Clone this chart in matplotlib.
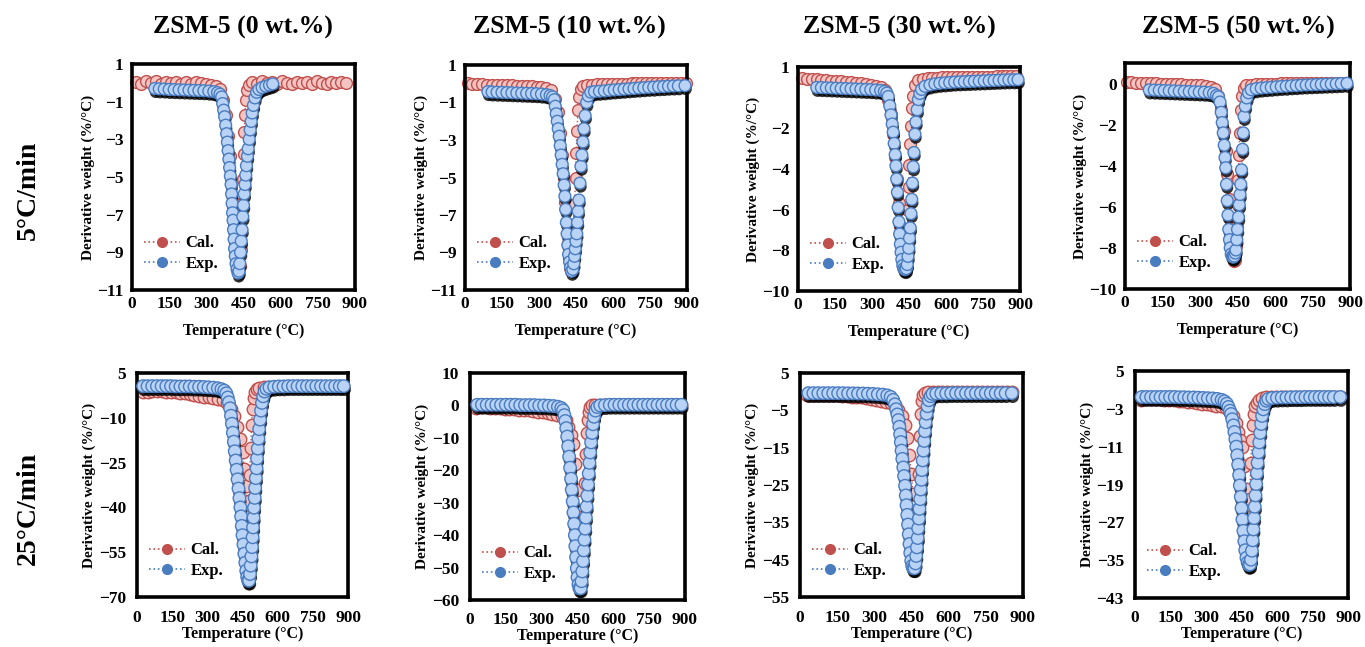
import matplotlib
matplotlib.use("Agg")
import matplotlib.pyplot as plt
import matplotlib.patheffects as pe
from matplotlib.lines import Line2D

plt.rcParams['font.family'] = ['Liberation Serif', 'DejaVu Serif']
plt.rcParams['font.weight'] = 'bold'

# ---- column / row labels ----
COL_TITLES = ['ZSM-5 (0 wt.%)', 'ZSM-5 (10 wt.%)', 'ZSM-5 (30 wt.%)', 'ZSM-5 (50 wt.%)']
ROW_TITLES = ['5°C/min', '25°C/min']
X_TICKS = [0, 150, 300, 450, 600, 750, 900]

# ---- 5 C/min, 0 wt.% ----
EXP5_0_T = [92, 110, 130, 150, 170, 190, 210, 230, 250, 270, 290, 310, 330, 345, 355,
            362, 366, 370, 374, 378, 382, 385, 388, 391, 394, 397, 400, 402, 404, 406,
            408, 410, 412, 414, 417, 420, 424, 428,
            432, 435, 438, 441, 444, 447, 450, 453, 456, 459, 462, 466, 469, 473, 477,
            481, 485, 490, 496, 503, 512, 525, 540, 555, 568]
EXP5_0_Y = [-0.30, -0.32, -0.33, -0.35, -0.36, -0.37, -0.38, -0.39, -0.40, -0.41, -0.42,
            -0.44, -0.47, -0.52, -0.60,
            -0.75, -1.1, -1.45, -1.8, -2.25, -2.7, -3.15, -3.6, -4.05, -4.5, -4.95, -5.4,
            -5.9, -6.4, -6.9, -7.3, -7.8, -8.3, -8.8, -9.2, -9.6, -9.9, -10.1,
            -10.0, -9.6, -9.0, -8.4, -7.8, -7.1, -6.5, -5.9, -5.4, -4.9, -4.4, -3.9, -3.5,
            -3.0, -2.5, -2.05, -1.6, -1.2, -0.8, -0.5, -0.35, -0.25, -0.18, -0.12, -0.06]
CAL5_0_T = [18, 38, 58, 78, 98, 118, 138, 158, 178, 198, 218, 238, 258, 278, 298, 318, 338, 355,
            368, 378, 388, 396, 404, 410, 416, 421, 426, 430,
            434, 438, 441, 444, 447, 450, 453, 456, 460, 465, 472,
            485, 505, 525, 545, 565, 585, 605, 625, 645, 665, 685, 705, 725, 745, 765, 785,
            805, 825, 845, 862]
CAL5_0_Y = [0.05, -0.05, 0.1, 0.0, 0.08, -0.06, 0.04, -0.02, 0.07, -0.05, 0.03, -0.04, 0.06,
            -0.03, -0.05, -0.1, -0.18, -0.35,
            -0.9, -1.7, -2.8, -3.9, -5.2, -6.4, -7.6, -8.6, -9.4, -9.9,
            -9.7, -8.9, -7.8, -6.5, -5.1, -3.8, -2.6, -1.7, -0.9, -0.4, -0.1,
            0.05, -0.04, 0.1, -0.02, 0.06, -0.05, 0.08, 0.0, -0.06, 0.07, -0.03, 0.05, -0.04,
            0.09, 0.01, -0.05, 0.06, -0.02, 0.04, 0.0]

# ---- 5 C/min, 10 wt.% ----
EXP5_10_T = [93, 110, 130, 150, 170, 190, 210, 230, 250, 270, 290, 310, 330, 345, 355,
             362, 366, 370, 374, 378, 382, 386, 390, 394, 398, 402, 405, 408, 411, 414,
             417, 420, 424, 428, 432,
             437, 441, 444, 447, 450, 453, 456, 459, 462, 466, 470, 474, 478, 482, 487,
             493, 500, 510,
             525, 545, 565, 585, 605, 625, 645, 665, 685, 705, 725, 745, 765, 785, 805,
             825, 845, 865, 892]
EXP5_10_Y = [-0.42, -0.44, -0.45, -0.46, -0.47, -0.48, -0.49, -0.50, -0.51, -0.52, -0.53,
             -0.55, -0.58, -0.63, -0.7,
             -0.85, -1.2, -1.6, -2.0, -2.4, -2.8, -3.3, -3.8, -4.3, -4.8, -5.4, -6.0, -6.7,
             -7.4, -8.0, -8.6, -9.1, -9.5, -9.8, -10.0,
             -9.9, -9.6, -9.2, -8.8, -8.4, -8.0, -7.4, -6.8, -6.2, -5.3, -4.4, -3.8, -3.1,
             -2.4, -1.7, -1.0, -0.65, -0.45,
             -0.42, -0.40, -0.38, -0.35, -0.33, -0.31, -0.29, -0.27, -0.25, -0.23, -0.21,
             -0.19, -0.18, -0.16, -0.15, -0.13, -0.12, -0.11, -0.1]
CAL5_10_T = [12, 30, 50, 70, 90, 110, 130, 150, 170, 190, 210, 230, 250, 270, 290, 310, 330, 350,
             365, 375, 385, 393, 400, 407, 413, 418, 423, 427, 431,
             435, 439, 442, 445, 448, 451, 454, 458, 463, 470, 480,
             495, 515, 535, 555, 575, 595, 615, 635, 655, 675, 695, 715, 735, 755, 775,
             795, 815, 835, 855, 875, 895]
CAL5_10_Y = [0.02, 0.0, -0.02, -0.03, -0.04, -0.05, -0.06, -0.07, -0.08, -0.09, -0.1, -0.11,
             -0.12, -0.13, -0.15, -0.18, -0.23, -0.35,
             -0.8, -1.5, -2.6, -3.8, -5.0, -6.3, -7.5, -8.5, -9.3, -9.8, -10.0,
             -9.7, -8.8, -7.7, -6.4, -5.0, -3.7, -2.5, -1.4, -0.7, -0.3, -0.12,
             -0.06, -0.04, -0.03, -0.02, -0.01, 0.0, 0.0, 0.01, 0.01, 0.02, 0.02, 0.03, 0.03,
             0.03, 0.04, 0.04, 0.04, 0.05, 0.05, 0.05, 0.05]

# ---- 5 C/min, 30 wt.% ----
EXP5_30_T = [76, 95, 115, 135, 155, 175, 195, 215, 235, 255, 275, 295, 315, 335, 350, 360,
             366, 372, 377, 382, 386, 390, 394, 397, 400, 403, 406, 409, 412, 415, 418,
             421, 425, 429, 434,
             439, 443, 446, 449, 452, 455, 458, 461, 464, 467, 470, 474, 478, 483, 488,
             494, 501,
             515, 535, 555, 575, 595, 615, 635, 655, 675, 695, 715, 735, 755, 775, 795,
             815, 835, 855, 875, 892]
EXP5_30_Y = [0.0, -0.01, -0.02, -0.03, -0.04, -0.05, -0.06, -0.07, -0.08, -0.09, -0.1, -0.11,
             -0.13, -0.15, -0.2, -0.28,
             -0.45, -0.9, -1.35, -1.8, -2.2, -2.75, -3.3, -3.85, -4.5, -5.15, -5.9, -6.6,
             -7.2, -7.7, -8.1, -8.45, -8.75, -8.9, -8.95,
             -8.9, -8.7, -8.3, -7.9, -7.4, -6.9, -6.2, -5.5, -4.7, -3.9, -3.2, -2.3, -1.7,
             -1.1, -0.6, -0.3, -0.1,
             0.05, 0.12, 0.17, 0.2, 0.22, 0.24, 0.26, 0.27, 0.28, 0.29, 0.3, 0.31, 0.32,
             0.33, 0.34, 0.35, 0.36, 0.37, 0.37, 0.38]
CAL5_30_T = [15, 35, 55, 75, 95, 115, 135, 155, 175, 195, 215, 235, 255, 275, 295, 315, 335, 352,
             366, 376, 386, 394, 401, 408, 414, 419, 424, 428, 432,
             436, 440, 443, 446, 449, 452, 455, 458, 462, 467, 474,
             485, 505, 525, 545, 565, 585, 605, 625, 645, 665, 685, 705, 725, 745, 765,
             785, 805, 825, 845, 865, 885]
CAL5_30_Y = [0.45, 0.43, 0.41, 0.39, 0.37, 0.35, 0.33, 0.31, 0.29, 0.27, 0.25, 0.23, 0.2,
             0.17, 0.13, 0.08, 0.0, -0.15,
             -0.6, -1.3, -2.3, -3.4, -4.5, -5.7, -6.8, -7.7, -8.4, -8.8, -8.95,
             -8.7, -8.0, -7.1, -6.0, -4.9, -3.8, -2.8, -1.9, -1.0, -0.4, 0.1,
             0.35, 0.42, 0.45, 0.47, 0.48, 0.49, 0.5, 0.5, 0.51, 0.51, 0.52, 0.52, 0.52,
             0.53, 0.53, 0.53, 0.54, 0.54, 0.54, 0.55, 0.55]

# ---- 5 C/min, 50 wt.% ----
EXP5_50_T = [97, 117, 137, 157, 177, 197, 217, 237, 257, 277, 297, 317, 337, 354, 366,
             374, 380, 385, 389, 393, 397, 400, 403, 406, 409, 412, 415, 418, 421, 425,
             429, 433,
             437, 441, 444, 447, 450, 454, 457, 460, 463, 466, 470, 473, 476, 481, 487, 494,
             505, 525, 545, 565, 585, 605, 625, 645, 665, 685, 705, 725, 745, 765, 785,
             805, 825, 845, 865, 888]
EXP5_50_Y = [-0.31, -0.32, -0.33, -0.34, -0.35, -0.36, -0.37, -0.38, -0.39, -0.4, -0.41,
             -0.42, -0.44, -0.48, -0.58,
             -0.65, -0.9, -1.4, -1.9, -2.4, -3.0, -3.6, -4.1, -4.9, -5.7, -6.4, -7.1, -7.6,
             -8.0, -8.3, -8.42, -8.45,
             -8.4, -8.25, -8.1, -7.6, -7.1, -6.5, -5.9, -5.4, -4.9, -4.2, -3.2, -2.4, -1.6,
             -1.1, -0.7, -0.45,
             -0.3, -0.25, -0.22, -0.2, -0.18, -0.16, -0.14, -0.13, -0.11, -0.1, -0.08,
             -0.07, -0.06, -0.05, -0.04, -0.03, -0.02, -0.01, 0.0, 0.01]
CAL5_50_T = [6, 25, 45, 65, 85, 105, 125, 145, 165, 185, 205, 225, 245, 265, 285, 305, 325,
             345, 360,
             372, 384, 394, 402, 409, 416, 422, 427, 432, 436,
             440, 444, 447, 450, 453, 456, 459, 463, 468, 475,
             485, 505, 525, 545, 565, 585, 605, 625, 645, 665, 685, 705, 725, 745, 765,
             785, 805, 825, 845, 865, 885]
CAL5_50_Y = [0.09, 0.07, 0.05, 0.04, 0.03, 0.02, 0.01, 0.0, -0.01, -0.02, -0.03, -0.04,
             -0.05, -0.06, -0.07, -0.09, -0.11, -0.15, -0.25,
             -0.6, -1.3, -2.3, -3.3, -4.4, -5.6, -6.7, -7.6, -8.3, -8.65,
             -8.6, -7.9, -7.0, -5.9, -4.7, -3.5, -2.4, -1.3, -0.6, -0.2,
             -0.08, -0.05, -0.03, -0.02, -0.01, 0.0, 0.0, 0.01, 0.01, 0.02, 0.02, 0.02,
             0.03, 0.03, 0.03, 0.04, 0.04, 0.04, 0.05, 0.05, 0.05]

# ---- 25 C/min, 0 wt.% ----
EXP25_0_T = [26, 45, 65, 85, 105, 125, 145, 165, 185, 205, 225, 245, 265, 285, 305, 325,
             345, 360, 372,
             381, 387, 392, 397, 401, 405, 409, 413, 417, 421, 425, 429, 433, 437, 441,
             444, 447, 450, 454, 458, 462, 466, 470, 474,
             478, 482, 485, 488, 491, 493, 495, 497, 499, 502, 504, 507, 510, 512, 515,
             518, 521, 525, 529, 533, 538, 544, 552,
             565, 585, 605, 625, 645, 665, 685, 705, 725, 745, 765, 785, 805, 825, 845,
             865, 882]
EXP25_0_Y = [0.6, 0.6, 0.6, 0.6, 0.6, 0.6, 0.6, 0.5, 0.5, 0.5, 0.5, 0.4, 0.4, 0.3, 0.2,
             0.1, -0.1, -0.4, -0.9,
             -1.8, -3.2, -4.8, -6.8, -9.3, -12.0, -15.0, -18.0, -21.2, -24.3, -27.4, -30.6,
             -33.7, -36.9, -40.0, -43.0, -46.2, -49.3, -52.4, -55.5, -58.5, -61.2, -63.3,
             -64.5,
             -64.5, -62.3, -59.5, -56.4, -53.3, -50.0, -46.7, -43.4, -40.1, -36.8, -33.5,
             -30.2, -26.9, -23.6, -20.3, -17.0, -13.8, -10.6, -7.6, -5.0, -2.8, -1.2, -0.3,
             0.2, 0.4, 0.5, 0.5, 0.6, 0.6, 0.6, 0.6, 0.6, 0.6, 0.6, 0.6, 0.6, 0.6, 0.6,
             0.6, 0.6]
CAL25_0_T = [26, 45, 65, 85, 105, 125, 145, 165, 185, 205, 225, 245, 265, 285, 305, 325,
             345, 365,
             385, 400, 415, 428, 440, 450, 458, 464, 469, 473,
             477, 481, 485, 489, 493, 497, 502, 510,
             520, 540, 560, 580, 600, 620, 640, 660, 680, 700, 720, 740, 760, 780, 800,
             820, 840, 860, 880]
CAL25_0_Y = [-1.5, -1.2, -1.0, -1.0, -1.1, -1.2, -1.3, -1.4, -1.6, -1.8, -2.0, -2.3, -2.6,
             -2.9, -3.1, -3.3, -3.6, -4.0,
             -5.0, -7.0, -9.5, -13.0, -17.0, -21.5, -27.0, -33.0, -38.5, -42.0,
             -38.0, -29.0, -20.0, -12.5, -7.0, -3.5, -1.5, -0.5,
             0.0, 0.2, 0.3, 0.3, 0.4, 0.4, 0.4, 0.4, 0.4, 0.4, 0.4, 0.4, 0.4, 0.4, 0.4,
             0.4, 0.4, 0.4, 0.4]

# ---- 25 C/min, 10 wt.% ----
EXP25_10_T = [30, 50, 70, 90, 110, 130, 150, 170, 190, 210, 230, 250, 270, 290, 310, 330,
              350, 368, 382,
              390, 395, 399, 403, 407, 411, 415, 419, 423, 426, 430, 433, 436, 439, 441,
              444, 447, 450, 454, 458,
              463, 467, 470, 473, 476, 479, 482, 485, 488, 491, 494, 497, 500, 503, 507,
              511, 515, 519, 525, 533,
              545, 565, 585, 605, 625, 645, 665, 685, 705, 725, 745, 765, 785, 805, 825,
              845, 865, 885]
EXP25_10_Y = [0.2, 0.2, 0.2, 0.2, 0.2, 0.2, 0.2, 0.2, 0.2, 0.1, 0.1, 0.1, 0.1, 0.0, 0.0,
              -0.1, -0.2, -0.4, -0.8,
              -1.5, -3.0, -4.8, -7.0, -9.6, -12.6, -15.8, -19.2, -22.6, -26.0, -29.6, -33.0,
              -36.5, -40.0, -43.4, -46.8, -50.2, -53.0, -55.2, -56.4,
              -56.4, -54.2, -51.2, -48.0, -44.7, -41.4, -38.0, -34.6, -31.2, -27.8, -24.4,
              -21.0, -17.7, -14.5, -11.4, -8.5, -5.8, -3.5, -1.6, -0.5,
              0.0, 0.1, 0.2, 0.2, 0.2, 0.2, 0.2, 0.2, 0.2, 0.2, 0.2, 0.2, 0.2, 0.2, 0.2,
              0.2, 0.2, 0.2]
CAL25_10_T = [25, 45, 65, 85, 105, 125, 145, 165, 185, 205, 225, 245, 265, 285, 305, 325,
              345, 365, 385,
              400, 412, 422, 432, 440, 447, 453, 459, 464, 468,
              472, 476, 480, 484, 488, 493, 498, 503, 510,
              525, 545, 565, 585, 605, 625, 645, 665, 685, 705, 725, 745, 765, 785, 805,
              825, 845, 865, 885]
CAL25_10_Y = [-0.8, -0.6, -0.6, -0.7, -0.8, -0.9, -1.0, -1.1, -1.2, -1.3, -1.4, -1.5, -1.7,
              -1.9, -2.1, -2.3, -2.5, -2.8, -3.3,
              -4.5, -6.5, -9.0, -12.0, -18.0, -26.0, -33.0, -39.0, -43.5, -45.5,
              -42.0, -34.0, -24.0, -15.0, -8.5, -4.5, -2.0, -0.6, 0.0,
              0.1, 0.1, 0.2, 0.2, 0.2, 0.2, 0.2, 0.2, 0.2, 0.2, 0.2, 0.2, 0.2, 0.2, 0.2,
              0.2, 0.2, 0.2, 0.2]

# ---- 25 C/min, 30 wt.% ----
EXP25_30_T = [34, 54, 74, 94, 114, 134, 154, 174, 194, 214, 234, 254, 274, 294, 314, 334,
              352, 366,
              376, 383, 388, 393, 397, 401, 404, 407, 410, 413, 417, 420, 424, 427, 430,
              433, 436, 439, 442, 445, 449, 453, 457,
              462, 466, 469, 472, 475, 477, 480, 482, 485, 487, 490, 492, 495, 498, 501,
              504, 507, 511, 515, 520, 527, 535,
              550, 570, 590, 610, 630, 650, 670, 690, 710, 730, 750, 770, 790, 810, 830, 855]
EXP25_30_Y = [-0.4, -0.4, -0.4, -0.4, -0.4, -0.4, -0.4, -0.4, -0.45, -0.45, -0.5, -0.5,
              -0.55, -0.6, -0.7, -0.8, -1.0, -1.4,
              -2.2, -3.4, -4.7, -6.1, -7.6, -9.4, -11.4, -13.5, -15.8, -18.0, -20.3, -22.6,
              -25.2, -27.8, -30.4, -33.0, -35.6, -38.2, -40.8, -43.2, -45.3, -46.7, -47.3,
              -47.3, -46.0, -44.0, -41.7, -39.2, -36.6, -34.0, -31.4, -28.8, -26.2, -23.6,
              -21.0, -18.4, -15.8, -13.2, -10.6, -8.2, -5.9, -3.9, -2.3, -1.2, -0.6,
              -0.5, -0.45, -0.45, -0.4, -0.4, -0.4, -0.4, -0.4, -0.4, -0.4, -0.4, -0.4,
              -0.4, -0.4, -0.4, -0.4]
CAL25_30_T = [28, 48, 68, 88, 108, 128, 148, 168, 188, 208, 228, 248, 268, 288, 308, 328,
              348, 366, 382,
              396, 410, 422, 432, 441, 449, 456, 462, 467,
              471, 475, 479, 483, 487, 491, 496, 503,
              515, 535, 555, 575, 595, 615, 635, 655, 675, 695, 715, 735, 755, 775, 795,
              815, 835, 855]
CAL25_30_Y = [-1.0, -0.8, -0.8, -0.9, -0.9, -1.0, -1.0, -1.1, -1.2, -1.3, -1.4, -1.5, -1.7,
              -1.9, -2.1, -2.4, -2.7, -3.0, -3.6,
              -4.8, -6.5, -9.0, -12.5, -17.0, -22.0, -27.5, -33.5, -38.5,
              -39.5, -33.0, -22.0, -12.0, -6.0, -2.5, -1.0, -0.4,
              -0.2, -0.1, 0.0, 0.0, 0.0, 0.0, 0.0, 0.0, 0.0, 0.0, 0.0, 0.0, 0.0, 0.0, 0.0,
              0.0, 0.0, 0.0]

# ---- 25 C/min, 50 wt.% ----
EXP25_50_T = [28, 48, 68, 88, 108, 128, 148, 168, 188, 208, 228, 248, 268, 288, 308, 328,
              348, 366, 378,
              388, 395, 401, 406, 411, 416, 420, 424, 428, 432, 436, 440, 443, 447, 450,
              454, 458, 462, 466, 471, 476, 481,
              486, 490, 494, 497, 500, 503, 506, 509, 512, 515, 518, 522, 525, 529, 533,
              537, 542, 548, 555, 563,
              580, 600, 620, 640, 660, 680, 700, 720, 740, 760, 780, 800, 820, 840, 867]
EXP25_50_Y = [-0.5, -0.5, -0.5, -0.5, -0.5, -0.5, -0.5, -0.5, -0.55, -0.55, -0.6, -0.6,
              -0.65, -0.7, -0.75, -0.8, -0.9, -1.1, -1.4,
              -1.9, -2.6, -3.4, -4.1, -5.2, -6.5, -7.9, -9.4, -11.0, -12.8, -14.8, -17.0,
              -19.2, -21.6, -24.0, -26.4, -28.8, -31.0, -32.9, -34.5, -35.5, -36.0,
              -35.9, -34.9, -33.0, -30.8, -28.5, -26.1, -23.7, -21.3, -18.9, -16.6, -14.4,
              -12.2, -10.1, -8.1, -6.2, -4.5, -3.1, -2.0, -1.3, -0.9,
              -0.7, -0.65, -0.6, -0.6, -0.55, -0.55, -0.55, -0.5, -0.5, -0.5, -0.5, -0.5,
              -0.5, -0.5, -0.5]
CAL25_50_T = [24, 44, 64, 84, 104, 124, 144, 164, 184, 204, 224, 244, 264, 284, 304, 324,
              344, 364, 384,
              400, 414, 426, 436, 445, 454, 461, 467, 472, 477,
              481, 485, 489, 493, 497, 502, 508, 515, 523,
              535, 555, 575, 595, 615, 635, 655, 675, 695, 715, 735, 755, 775, 795, 815,
              835, 855, 870]
CAL25_50_Y = [-1.2, -0.9, -0.9, -1.0, -1.0, -1.1, -1.1, -1.2, -1.3, -1.4, -1.5, -1.6, -1.8,
              -1.9, -2.0, -2.1, -2.3, -2.5, -2.9,
              -3.6, -4.6, -6.0, -7.8, -9.5, -11.0, -15.0, -20.0, -25.0, -28.5,
              -28.0, -22.0, -14.5, -9.5, -6.5, -4.0, -2.5, -1.8, -1.2,
              -0.8, -0.6, -0.5, -0.5, -0.5, -0.5, -0.5, -0.5, -0.5, -0.5, -0.5, -0.5, -0.5,
              -0.5, -0.5, -0.5, -0.5, -0.5]

# y axis ticks per panel
YT5_0 = [1, -1, -3, -5, -7, -9, -11]
YT5_10 = [1, -1, -3, -5, -7, -9, -11]
YT5_30 = [1, -2, -4, -6, -8, -10]
YT5_50 = [0, -2, -4, -6, -8, -10]
YT25_0 = [5, -10, -25, -40, -55, -70]
YT25_10 = [10, 0, -10, -20, -30, -40, -50, -60]
YT25_30 = [5, -5, -15, -25, -35, -45, -55]
YT25_50 = [5, -3, -11, -19, -27, -35, -43]

# (exp T, exp Y, cal T, cal Y, y-ticks, ylim, axes rect in px: left, top, right, bottom)
PANELS = [
    (EXP5_0_T, EXP5_0_Y, CAL5_0_T, CAL5_0_Y, YT5_0, (-11, 1), (132, 64, 355, 290)),
    (EXP5_10_T, EXP5_10_Y, CAL5_10_T, CAL5_10_Y, YT5_10, (-11, 1), (465, 65, 687, 290)),
    (EXP5_30_T, EXP5_30_Y, CAL5_30_T, CAL5_30_Y, YT5_30, (-10, 1), (798, 67, 1020, 291)),
    (EXP5_50_T, EXP5_50_Y, CAL5_50_T, CAL5_50_Y, YT5_50, (-10, 1), (1125, 63, 1350, 289)),
    (EXP25_0_T, EXP25_0_Y, CAL25_0_T, CAL25_0_Y, YT25_0, (-70, 5), (137, 373, 348, 597)),
    (EXP25_10_T, EXP25_10_Y, CAL25_10_T, CAL25_10_Y, YT25_10, (-60, 10), (470, 373, 685, 600)),
    (EXP25_30_T, EXP25_30_Y, CAL25_30_T, CAL25_30_Y, YT25_30, (-55, 5), (800, 373, 1023, 597)),
    (EXP25_50_T, EXP25_50_Y, CAL25_50_T, CAL25_50_Y, YT25_50, (-43, 5), (1135, 371, 1348, 598)),
]

W, H = 1365, 647
RED_EDGE, RED_FACE = '#c0504d', '#f3c4c1'
BLUE_EDGE, BLUE_FACE = '#4a7cc0', '#b9d3f6'
SHADOW = [pe.SimplePatchShadow(offset=(0.6, -2.6), shadow_rgbFace='black', alpha=0.8),
          pe.Normal()]

fig = plt.figure(figsize=(W / 100, H / 100), dpi=100)

for i, (et, ey, ct, cy, yt, ylim, (l, t, r, b)) in enumerate(PANELS):
    ax = fig.add_axes([l / W, 1 - b / H, (r - l) / W, (b - t) / H])
    top_row = i < 4
    ms = 8.5 if top_row else 9
    # calculated curve (behind)
    ax.plot(ct, cy, ls=':', lw=1, color=RED_EDGE, marker='o', ms=ms,
            mfc=RED_FACE, mec=RED_EDGE, mew=1.0, zorder=2, clip_on=False)
    # experimental curve: dotted line, then markers with a drop shadow
    ax.plot(et, ey, ls=':', lw=1, color=BLUE_EDGE, zorder=3)
    ax.plot(et, ey, ls='none', marker='o', ms=ms, mfc=BLUE_FACE, mec=BLUE_EDGE,
            mew=1.0, zorder=3, clip_on=False, path_effects=SHADOW)
    ax.set_xlim(0, 900)
    ax.set_ylim(*ylim)
    ax.set_xticks(X_TICKS)
    ax.set_yticks(yt)
    ax.tick_params(axis='x', length=0, labelsize=12.5, pad=(4 if top_row else 9))
    ax.tick_params(axis='y', length=0, labelsize=12.5, pad=(6 if top_row else 8))
    for s in ax.spines.values():
        s.set_linewidth(2.6)
        s.set_color('black')
    ax.set_xlabel('Temperature (°C)', fontsize=11.5, fontweight='bold',
                  labelpad=(8 if top_row else 0))
    ax.set_ylabel('Derivative weight (%/°C)', fontsize=11, fontweight='bold', labelpad=2)
    handles = [Line2D([], [], ls=':', lw=1.2, color=RED_EDGE, marker='o', ms=7,
                      mfc=RED_EDGE, mec=RED_EDGE),
               Line2D([], [], ls=':', lw=1.2, color=BLUE_EDGE, marker='o', ms=7,
                      mfc=BLUE_EDGE, mec=BLUE_EDGE)]
    ax.legend(handles, ['Cal.', 'Exp.'], loc='lower left', bbox_to_anchor=(0.0, 0.03),
              frameon=False, prop={'size': 12, 'weight': 'bold'},
              handlelength=2.2, handletextpad=0.3, labelspacing=0.25, borderpad=0.2)

for x, title in zip([243, 569, 899, 1238], COL_TITLES):
    fig.text(x / W, 1 - 27 / H, title, ha='center', va='center', fontsize=18.5,
             fontweight='bold')
for y, title in zip([190, 508], ROW_TITLES):
    fig.text(28 / W, 1 - y / H, title, ha='center', va='center', rotation=90,
             fontsize=20, fontweight='bold')

fig.savefig('out.png', dpi=100)
